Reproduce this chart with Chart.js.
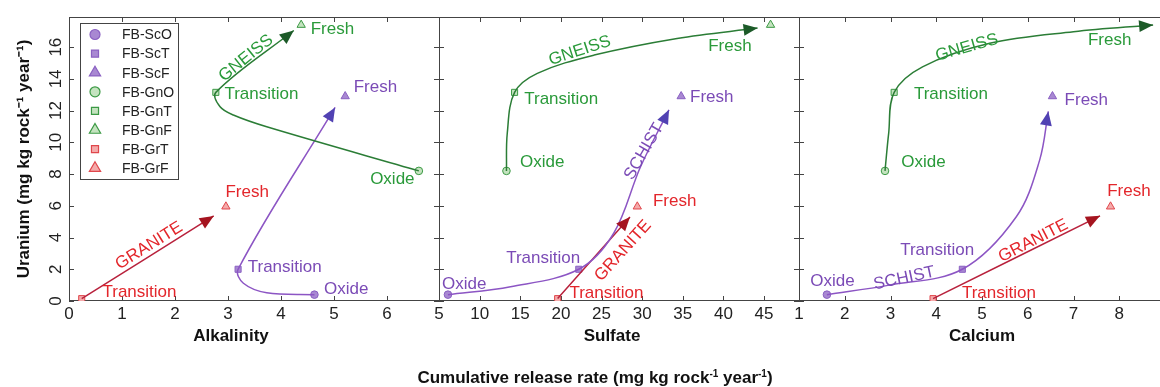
<!DOCTYPE html>
<html>
<head>
<meta charset="utf-8">
<script src="https://cdn.jsdelivr.net/npm/chart.js@4.4.1/dist/chart.umd.min.js"></script>
<style>
  body { margin: 0; background: #fff; }
  #wrap { position: relative; width: 1160px; height: 387px; overflow: hidden; font-family: "Liberation Sans", Arial, sans-serif; }
  canvas { position: absolute; top: 0; }
  #xlabel { position: absolute; left: 0; width: 1190px; top: 368px; text-align: center; font-weight: bold; font-size: 17px; line-height: 19px; color: #111; }
  #xlabel sup { font-size: 10px; line-height: 0; vertical-align: 6px; }
</style>
</head>
<body>
<div id="wrap">
  <canvas id="alk" width="460" height="387" style="left:0"></canvas>
  <canvas id="sul" width="400" height="387" style="left:420px"></canvas>
  <canvas id="cal" width="400" height="387" style="left:780px"></canvas>
  <div id="xlabel">Cumulative release rate (mg kg rock<sup>-1</sup> year<sup>-1</sup>)</div>
</div>
<script>
// samples, same order in every panel
const series = ['FB-ScO', 'FB-ScT', 'FB-ScF', 'FB-GnO', 'FB-GnT', 'FB-GnF', 'FB-GrT', 'FB-GrF'];
// uranium release (y)
const uranium = [0.4, 2.0, 12.9, 8.2, 13.15, 17.4, 0.15, 5.95];
// release rate of the other solutes (x)
const alkalinity = [4.63, 3.19, 5.21, 6.6, 2.77, 4.38, 0.24, 2.96];
const sulfate = [6.1, 22.2, 34.8, 13.3, 14.3, 45.8, 19.6, 29.4];
const calcium = [1.61, 4.57, 6.54, 2.88, 3.08, 9.4, 3.93, 7.81];

// tick labels
const alkTicks = [0, 1, 2, 3, 4, 5, 6];
const sulTicks = [5, 10, 15, 20, 25, 30, 35, 40, 45];
const calTicks = [1, 2, 3, 4, 5, 6, 7, 8];
const uTicks = [0, 2, 4, 6, 8, 10, 12, 14, 16];

// trend arrows oxide -> transition -> fresh
const schistAlk = [[4.63, 0.4], [3.73, 0.52], [3.29, 1.12], [3.19, 2.0], [5.02, 12.2]];
const gneissAlk = [[6.6, 8.2], [3.73, 10.98], [3.1, 11.72], [2.85, 12.24], [2.77, 13.15], [4.24, 17.05]];
const graniteAlk = [[0.24, 0.15], [2.73, 5.36]];
const schistSul = [[6.1, 0.4], [13.8, 0.9], [22.2, 2.0], [26.5, 4.27], [29.8, 8.46], [33.3, 12.05]];
const gneissSul = [[13.3, 8.2], [13.4, 10.57], [14.3, 13.15], [17.1, 14.35], [24.1, 15.5], [34.3, 16.55], [44.2, 17.2]];
const graniteSul = [[19.6, 0.15], [28.5, 5.3]];
const schistCal = [[1.61, 0.4], [2.97, 1.0], [4.57, 2.0], [5.75, 5.31], [6.26, 8.88], [6.45, 11.95]];
const gneissCal = [[2.88, 8.2], [2.96, 10.57], [3.08, 13.15], [3.7, 14.76], [5.17, 16.24], [7.0, 16.97], [8.74, 17.4]];
const graniteCal = [[3.93, 0.15], [7.58, 5.37]];

// colours per rock type
const rock = {
  Sc: { text: '#7b4bb6', line: '#8c55c4', head: '#5142b3', fill: '#a888d2', edge: '#8a60c2' },
  Gn: { text: '#2a9a3a', line: '#2b7d36', head: '#1c5a28', fill: '#c4e3bf', edge: '#3c9a45' },
  Gr: { text: '#e3262b', line: '#b8213c', head: '#a5141f', fill: '#f4aaaa', edge: '#e0474c' }
};
const shapes = ['circle', 'rect', 'triangle', 'circle', 'rect', 'triangle', 'rect', 'triangle'];
const family = '"Liberation Sans", Arial, sans-serif';
Chart.defaults.font.family = family;

// text labels: [text, x, y, rock, angle]
const alkNotes = [
  ['Fresh', 4.97, 17.14, 'Gn', 0], ['GNEISS', 3.34, 15.31, 'Gn', -39],
  ['Transition', 3.63, 13.02, 'Gn', 0], ['Oxide', 6.1, 7.69, 'Gn', 0],
  ['Fresh', 5.78, 13.47, 'Sc', 0], ['Transition', 4.07, 2.1, 'Sc', 0], ['Oxide', 5.23, 0.76, 'Sc', 0],
  ['Fresh', 3.36, 6.82, 'Gr', 0], ['GRANITE', 1.51, 3.48, 'Gr', -32], ['Transition', 1.33, 0.52, 'Gr', 0]
];
const sulNotes = [
  ['GNEISS', 22.33, 15.77, 'Gn', -18], ['Fresh', 40.8, 16.03, 'Gn', 0],
  ['Transition', 20.04, 12.73, 'Gn', 0], ['Oxide', 17.71, 8.74, 'Gn', 0],
  ['Fresh', 38.57, 12.81, 'Sc', 0], ['SCHIST', 30.22, 9.41, 'Sc', -60],
  ['Transition', 17.82, 2.69, 'Sc', 0], ['Oxide', 8.11, 1.05, 'Sc', 0],
  ['Fresh', 34.0, 6.3, 'Gr', 0], ['GRANITE', 27.65, 3.16, 'Gr', -48], ['Transition', 25.6, 0.48, 'Gr', 0]
];
const calNotes = [
  ['GNEISS', 4.67, 15.97, 'Gn', -16], ['Fresh', 7.79, 16.4, 'Gn', 0],
  ['Transition', 4.32, 13.04, 'Gn', 0], ['Oxide', 3.72, 8.74, 'Gn', 0],
  ['Fresh', 7.28, 12.67, 'Sc', 0], ['Transition', 4.02, 3.17, 'Sc', 0],
  ['Oxide', 1.73, 1.26, 'Sc', 0], ['SCHIST', 3.3, 1.43, 'Sc', -12],
  ['Fresh', 8.21, 6.93, 'Gr', 0], ['GRANITE', 6.12, 3.79, 'Gr', -27], ['Transition', 5.37, 0.48, 'Gr', 0]
];

function panel(id, xs, xTicks, xMin, xMax, paths, notes, o) {
  const datasets = [];
  paths.forEach(([key, path]) => {
    datasets.push({
      data: path.map(p => ({ x: p[0], y: p[1] })),
      showLine: true, tension: 0.35, pointRadius: 0,
      borderColor: rock[key].line, borderWidth: 1.5, arrow: rock[key].head
    });
  });
  series.forEach((name, i) => {
    const c = rock[name.slice(3, 5)];
    datasets.push({
      label: name,
      data: [{ x: xs[i], y: uranium[i] }],
      pointStyle: shapes[i],
      pointRadius: shapes[i] === 'circle' ? 3.8 : (shapes[i] === 'rect' ? 4.3 : 4.8),
      backgroundColor: c.fill, borderColor: c.edge, borderWidth: 1
    });
  });

  // box + inward ticks on all sides
  const frame = {
    id: 'frame',
    beforeDatasetsDraw(chart) {
      const { ctx, chartArea: a, scales: { x, y } } = chart;
      ctx.save();
      ctx.strokeStyle = '#444';
      ctx.lineWidth = 1;
      ctx.strokeRect(Math.round(a.left) + 0.5, Math.round(a.top) + 0.5, Math.round(a.width), Math.round(a.height) - 1);
      ctx.beginPath();
      x.ticks.forEach(t => {
        const px = Math.round(x.getPixelForValue(t.value)) + 0.5;
        ctx.moveTo(px, a.bottom); ctx.lineTo(px, a.bottom - 5);
        ctx.moveTo(px, a.top); ctx.lineTo(px, a.top + 5);
      });
      y.ticks.forEach(t => {
        const py = Math.round(y.getPixelForValue(t.value)) + 0.5;
        ctx.moveTo(a.left, py); ctx.lineTo(a.left + 5, py);
        ctx.moveTo(a.right, py); ctx.lineTo(a.right - 5, py);
      });
      ctx.stroke();
      ctx.restore();
    }
  };

  // arrow heads, labels, axis name, legend
  const extras = {
    id: 'extras',
    afterDatasetsDraw(chart) {
      const { ctx, chartArea: a, scales: { x, y } } = chart;
      ctx.save();
      chart.data.datasets.forEach((d, i) => {
        if (!d.arrow) return;
        const pts = chart.getDatasetMeta(i).data;
        const tip = pts[pts.length - 1], prev = pts[pts.length - 2];
        let fx = tip.cp1x, fy = tip.cp1y;
        if (fx === undefined || Math.hypot(tip.x - fx, tip.y - fy) < 2) { fx = prev.x; fy = prev.y; }
        const ang = Math.atan2(tip.y - fy, tip.x - fx);
        ctx.save();
        ctx.translate(tip.x, tip.y);
        ctx.rotate(ang);
        ctx.fillStyle = d.arrow;
        ctx.beginPath();
        ctx.moveTo(0, 0); ctx.lineTo(-14, -6); ctx.lineTo(-14, 6); ctx.closePath();
        ctx.fill();
        ctx.restore();
      });

      ctx.font = '17px ' + family;
      ctx.textAlign = 'center';
      ctx.textBaseline = 'middle';
      notes.forEach(([t, vx, vy, key, rot]) => {
        ctx.save();
        ctx.translate(x.getPixelForValue(vx), y.getPixelForValue(vy));
        ctx.rotate(rot * Math.PI / 180);
        ctx.fillStyle = rock[key].text;
        ctx.fillText(t, 0, 0);
        ctx.restore();
      });

      ctx.font = 'bold 17px ' + family;
      ctx.fillStyle = '#111';
      ctx.fillText(o.title, (a.left + a.right) / 2 + o.titleShift, 336);

      if (o.legend) {
        ctx.fillStyle = '#fff';
        ctx.fillRect(80.5, 23.5, 98, 156);
        ctx.strokeStyle = '#444';
        ctx.strokeRect(80.5, 23.5, 98, 156);
        ctx.font = '14px ' + family;
        ctx.textAlign = 'left';
        series.forEach((name, i) => {
          const c = rock[name.slice(3, 5)];
          const cy = 34.5 + i * 19.1;
          ctx.fillStyle = c.fill;
          ctx.strokeStyle = c.edge;
          ctx.lineWidth = 1.2;
          Chart.helpers.drawPoint(ctx, {
            pointStyle: shapes[i], rotation: 0, borderWidth: 1.2,
            radius: shapes[i] === 'circle' ? 5 : (shapes[i] === 'rect' ? 5 : 6.5)
          }, 95, cy);
          ctx.fillStyle = '#222';
          ctx.fillText(name, 122, cy + 1);
        });
      }
      ctx.restore();
    }
  };

  return new Chart(document.getElementById(id), {
    type: 'scatter',
    data: { datasets },
    options: {
      responsive: false,
      animation: false,
      events: [],
      layout: { padding: { left: o.left, right: o.right, top: 17, bottom: 0 } },
      scales: {
        x: {
          type: 'linear', min: xMin, max: xMax,
          afterBuildTicks: s => { s.ticks = xTicks.map(v => ({ value: v })); },
          afterFit: s => { s.height = 86; },
          grid: { display: false, drawTicks: false },
          border: { display: false },
          ticks: { font: { size: 17 }, color: '#222', padding: 3, maxRotation: 0, autoSkip: false }
        },
        y: {
          type: 'linear', min: 0, max: 17.9,
          afterBuildTicks: s => { s.ticks = uTicks.map(v => ({ value: v })); },
          afterFit: s => { s.width = o.yWidth; },
          grid: { display: false, drawTicks: false },
          border: { display: false },
          ticks: {
            display: o.legend, font: { size: 17 }, color: '#222', padding: 3,
            minRotation: 90, maxRotation: 90, crossAlign: 'center', autoSkip: false
          },
          title: {
            display: o.legend, text: 'Uranium (mg kg rock\u207B\u00B9 year\u207B\u00B9)',
            font: { size: 17, weight: 'bold' }, color: '#111', padding: { top: 14, bottom: 0 }
          }
        }
      },
      plugins: { legend: { display: false }, tooltip: { enabled: false } }
    },
    plugins: [frame, extras]
  });
}

panel('alk', alkalinity, alkTicks, 0, 6.98,
  [['Gn', gneissAlk], ['Sc', schistAlk], ['Gr', graniteAlk]], alkNotes,
  { left: 0, right: 21, yWidth: 69, legend: true, title: 'Alkalinity', titleShift: -23 });
panel('sul', sulfate, sulTicks, 5, 49.3,
  [['Gn', gneissSul], ['Sc', schistSul], ['Gr', graniteSul]], sulNotes,
  { left: 19, right: 21, yWidth: 0, legend: false, title: 'Sulfate', titleShift: -7 });
panel('cal', calcium, calTicks, 1, 9,
  [['Gn', gneissCal], ['Sc', schistCal], ['Gr', graniteCal]], calNotes,
  { left: 19, right: 15, yWidth: 0, legend: false, title: 'Calcium', titleShift: 0 });
</script>
</body>
</html>
